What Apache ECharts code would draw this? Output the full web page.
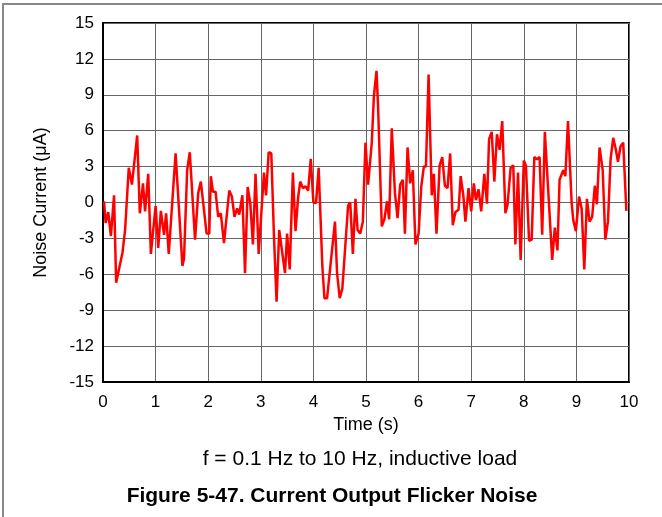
<!DOCTYPE html>
<html><head><meta charset="utf-8">
<script src="https://cdn.jsdelivr.net/npm/echarts@6/dist/echarts.min.js"></script>
<style>html,body{margin:0;padding:0;background:#fff}#c{width:662px;height:517px}</style>
</head><body><div id="c"></div>
<script>
const times = [0.02,0.05,0.10,0.15,0.21,0.25,0.37,0.42,0.49,0.55,0.65,0.70,0.76,0.80,0.86,0.91,1.00,1.05,1.10,1.16,1.20,1.25,1.38,1.51,1.54,1.60,1.65,1.75,1.81,1.86,1.97,2.02,2.05,2.09,2.14,2.19,2.24,2.30,2.40,2.45,2.50,2.55,2.59,2.65,2.70,2.75,2.80,2.85,2.90,2.96,3.06,3.10,3.15,3.20,3.25,3.30,3.35,3.46,3.50,3.55,3.61,3.66,3.71,3.75,3.80,3.85,3.90,3.95,4.00,4.05,4.10,4.17,4.21,4.26,4.41,4.45,4.50,4.55,4.66,4.70,4.75,4.80,4.84,4.89,4.94,4.99,5.04,5.11,5.15,5.20,5.23,5.30,5.35,5.40,5.44,5.49,5.55,5.60,5.65,5.70,5.74,5.79,5.84,5.89,5.94,6.00,6.05,6.10,6.14,6.19,6.25,6.29,6.34,6.40,6.45,6.50,6.55,6.60,6.65,6.70,6.76,6.80,6.85,6.89,6.95,7.00,7.05,7.09,7.14,7.19,7.25,7.30,7.34,7.39,7.44,7.49,7.54,7.59,7.65,7.69,7.75,7.80,7.84,7.89,7.94,8.00,8.04,8.10,8.15,8.20,8.25,8.30,8.35,8.40,8.54,8.59,8.64,8.68,8.75,8.79,8.84,8.91,8.94,8.99,9.05,9.10,9.15,9.20,9.25,9.30,9.35,9.39,9.44,9.50,9.55,9.60,9.65,9.70,9.75,9.79,9.84,9.89,9.95];
const noise = [0.1,-1.7,-0.8,-2.8,0.6,-6.7,-4.2,-2.3,2.9,1.5,5.6,-0.9,1.6,-0.75,2.4,-4.3,-0.3,-3.8,-0.7,-2.7,-0.9,-4.3,4.1,-5.3,-4.7,2.7,4.2,-3.1,0.8,1.75,-2.6,-2.6,2.2,0.9,0.9,-1.2,-0.9,-3.4,1.0,0.5,-1.2,-0.5,-1.0,0.6,-5.9,1.3,-0.05,-3.5,2.4,-4.3,2.5,0.6,4.2,4.1,-2.8,-8.3,-2.3,-5.9,-2.6,-5.6,2.5,-2.4,0.45,1.75,1.2,1.35,1.0,3.65,0,-0.05,2.9,-5.3,-8.0,-8.0,-1.6,-5.9,-8.0,-7.2,-0.25,0,-4.3,0.3,-2.3,-2.6,-1.6,5.0,1.5,5.0,8.9,11.0,8.0,-2.0,-1.4,0.1,-1.4,6.2,0.8,-1.3,1.5,1.9,-2.6,4.6,1.6,2.7,-3.5,-2.6,1.3,3.0,3.0,10.7,0.6,2.4,-2.6,3.1,3.8,1.4,1.2,4.1,-1.9,-0.8,-0.6,2.2,0.6,-1.6,1.2,-0.75,1.6,0.2,1.1,-0.75,2.4,-0.1,5.3,5.9,1.75,5.7,4.4,6.8,-0.9,-0.2,2.9,3.1,-3.5,2.5,-4.8,3.5,3.1,-3.2,-3.1,3.8,3.6,3.8,-2.7,5.9,-4.8,-2.1,-4.0,1.9,2.7,2.2,6.8,-0.05,-1.45,-2.4,0.5,-0.5,-5.6,0.3,-1.6,-1.2,1.4,-0.15,4.6,2.7,-3.1,-1.6,3.6,5.4,4.4,3.4,4.7,5.0,-0.7];
const xTicks = [0,1,2,3,4,5,6,7,8,9,10];
const yTicks = [-15,-12,-9,-6,-3,0,3,6,9,12,15];

const chart = echarts.init(document.getElementById('c'));
const font = 'Liberation Sans, Arial, sans-serif';
chart.setOption({
  animation: false,
  backgroundColor: '#fff',
  grid: {left: 103, top: 23, right: 33, bottom: 135, show: true, borderColor: '#000', borderWidth: 2},
  xAxis: {
    type: 'value', min: xTicks[0], max: xTicks[xTicks.length-1], interval: 1,
    name: 'Time (s)', nameLocation: 'middle', nameGap: 31,
    nameTextStyle: {fontFamily: font, fontSize: 18, color: '#000'},
    axisLine: {show: true, onZero: false, lineStyle: {color: '#000', width: 2}},
    axisTick: {show: false},
    axisLabel: {fontFamily: font, fontSize: 17, color: '#000', margin: 12},
    splitLine: {show: true, lineStyle: {color: '#666', width: 1}}
  },
  yAxis: {
    type: 'value', min: yTicks[0], max: yTicks[yTicks.length-1], interval: 3,
    name: 'Noise Current (\u03bcA)', nameLocation: 'middle', nameGap: 53, nameRotate: 90,
    nameTextStyle: {fontFamily: font, fontSize: 18, color: '#000'},
    axisLine: {show: true, onZero: false, lineStyle: {color: '#000', width: 2}},
    axisTick: {show: false},
    axisLabel: {fontFamily: font, fontSize: 17, color: '#000', margin: 9},
    splitLine: {show: true, lineStyle: {color: '#666', width: 1}}
  },
  graphic: [
    {type: 'rect', shape: {x: 3, y: 4, width: 720, height: 600}, style: {fill: 'none', stroke: '#888', lineWidth: 2}, silent: true},
    {type: 'text', x: 360, y: 449, style: {text: 'f = 0.1 Hz to 10 Hz, inductive load', font: '21px Liberation Sans, Arial, sans-serif', fill: '#000', textAlign: 'center', textVerticalAlign: 'top'}},
    {type: 'text', x: 332, y: 486, style: {text: 'Figure 5-47. Current Output Flicker Noise', font: 'bold 21px Liberation Sans, Arial, sans-serif', fill: '#000', textAlign: 'center', textVerticalAlign: 'top'}}
  ],
  series: [{
    type: 'line', showSymbol: false, smooth: false,
    data: times.map((t, i) => [t, noise[i]]),
    lineStyle: {color: '#ff0000', width: 2.5},
    itemStyle: {color: '#ff0000'}
  }]
});
</script></body></html>
